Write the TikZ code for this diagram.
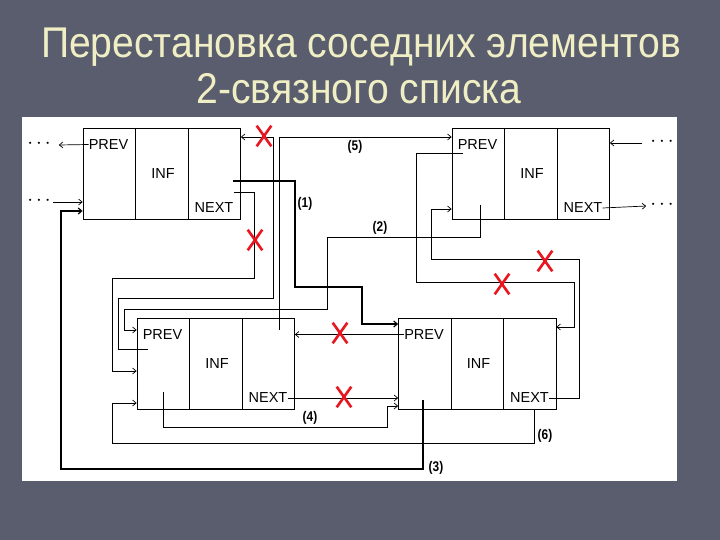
\documentclass[tikz,border=0pt]{standalone}
\usepackage{fontspec}
\setmainfont{Liberation Sans}
\usetikzlibrary{arrows.meta,shapes.misc}
\definecolor{slide}{RGB}{89,93,109}
\definecolor{titlecol}{RGB}{240,238,196}
\definecolor{crossred}{RGB}{232,22,30}
\newcommand{\dotz}{$\cdot$\hspace{3pt}$\cdot$\hspace{3pt}$\cdot$}
% one list element: name, x and y of its upper left corner
\newcommand{\elem}[3]{%
  \node[cell] (#1p) at (#2+26.25,#3+45.5) {};
  \node[cell] (#1i) at (#2+78.75,#3+45.5) {};
  \node[cell] (#1n) at (#2+131.25,#3+45.5) {};
  \node[field] (#1pt) at (#2+25.5,#3+16) {PREV};
  \node[field] (#1it) at (#2+80,#3+45.5) {INF};
  \node[field] (#1nt) at (#2+131,#3+79.5) {NEXT};
}
\tikzset{
  cell/.style={draw, line width=0.8pt, minimum width=52.5pt, minimum height=91pt, inner sep=0pt},
  field/.style={font=\fontsize{14.5}{15}\selectfont, inner sep=0pt},
  link/.style={->, line width=0.7pt},
  biglink/.style={->, line width=1.2pt},
  num/.style={font=\bfseries\fontsize{14}{14}\selectfont, xscale=0.85, inner sep=0pt},
  dots/.style={font=\bfseries\fontsize{22}{22}\selectfont, inner sep=0pt},
  xmark/.style={cross out, draw=crossred, line width=2.6pt, minimum width=12pt, minimum height=18pt, inner sep=0pt},
  headline/.style={font=\fontsize{43}{43}\selectfont, text=titlecol, xscale=0.91, anchor=base, inner sep=0pt}
}
\begin{document}
\begin{tikzpicture}[x=1pt,y=-1pt,>={Straight Barb[length=3.5pt,width=6pt]}]
\fill[slide] (0,0) rectangle (720,540);
\useasboundingbox (0,0) rectangle (720,540);
\fill[white] (22,117) rectangle (677,481);
\node[headline] (t1) at (361,58) {Перестановка соседних элементов};
\node[headline] (t2) at (359,104) {2-связного списка};
% elements
\elem{a}{83}{128.5}
\elem{b}{452}{128.5}
\elem{c}{137}{318.5}
\elem{d}{398.5}{318.5}
% ends of the list
\node[dots] (la1) at (39,144) {\dotz};
\node[dots] (la2) at (39,201) {\dotz};
\node[dots] (rb1) at (662,142) {\dotz};
\node[dots] (rb2) at (662,205) {\dotz};
\draw[link] (apt.west) -- ([xshift=8pt,yshift=-1pt]la1.east);
\draw[link] ([xshift=2pt,yshift=-1pt]la2.east) -- (ap.west |- 0,202);
\draw[link] ([xshift=-8pt,yshift=-1pt]rb1.west) -- (bn.east |- 0,143);
\draw[link] (bnt.east) -- ([xshift=-4pt,yshift=-1pt]rb2.west);
% pointers inside the cells
\coordinate (a1) at (233,181);
\coordinate (a2) at (234,192);
\coordinate (b1) at (463,153);
\coordinate (b2) at (480,205);
\coordinate (c1) at (148,349);
\coordinate (c2) at (163,392);
\coordinate (c3) at (279,330);
\coordinate (d1) at (423,400);
\coordinate (d2) at (534,409.5);
% old links
\draw[link] (a2) -| (254,278) -| (112,371) -- (cp.west |- 0,371);
\draw[link] (c1) -| (118,298) -| (273,137) -- (an.east |- 0,137);
\draw[link] (b1) -| (416,282) -| (574,327) -- (dn.east |- 0,327);
\draw[link] (dnt.east) -| (579,259) -| (431,209) -- (bp.west |- 0,209);
\draw[link] (dpt.west) -- (cn.east |- dpt.west);
\draw[link] (cnt.east) -- (dp.west |- cnt.east);
% new links
\draw[biglink] (a1) -| (295,287) -| (362,324) -- (dp.west |- 0,324);
\draw[link] (b2) |- (327,237) |- (124,309) |- (cp.west |- 0,330);
\draw[biglink] (d1) |- (61,469) |- (ap.west |- 0,211);
\draw[link] (c2) |- (387,427) |- (dp.west |- 0,406);
\draw[link] (c3) |- (bp.west |- 0,137);
\draw[link] (d2) |- (112,443) |- (cp.west |- 0,403);
\node[num] (n1) at (305,204) {(1)};
\node[num] (n2) at (380,228) {(2)};
\node[num] (n3) at (436,468) {(3)};
\node[num] (n4) at (310,418) {(4)};
\node[num] (n5) at (355,147) {(5)};
\node[num] (n6) at (545,436) {(6)};
% crossed out
\node[xmark] (x1) at (264,136) {};
\node[xmark] (x2) at (255,240) {};
\node[xmark] (x3) at (340,333) {};
\node[xmark] (x4) at (344,397) {};
\node[xmark] (x5) at (545,261) {};
\node[xmark] (x6) at (502,284) {};
\end{tikzpicture}
\end{document}
